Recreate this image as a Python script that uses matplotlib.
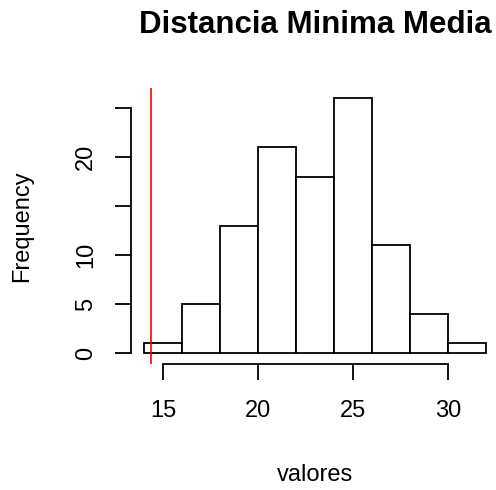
import matplotlib.pyplot as plt
import numpy as np

# histograma (R style)
bordes = np.arange(14, 33, 2)
conteos = [1, 5, 13, 21, 18, 26, 11, 4, 1]
linea_roja = 14.35

xticks = [15, 20, 25, 30]
yticks = [0, 5, 10, 15, 20, 25]
ytick_labels = ['0', '5', '10', '', '20', '']

plt.rcParams['font.family'] = ['Liberation Sans', 'DejaVu Sans']

W, H = 496, 490
fig = plt.figure(figsize=(W / 100, H / 100), dpi=100)
l, r = 130.6, 496
t, b = 88, 363.5
ax = fig.add_axes([l / W, 1 - b / H, (r - l) / W, (b - t) / H])

ax.bar(bordes[:-1], conteos, width=np.diff(bordes), align='edge',
       facecolor='white', edgecolor='black', linewidth=1.3)
ax.axvline(linea_roja, color='red', linewidth=1.2)

ax.set_xlim(13.28, 13.28 + (r - l) / 19.0)
ax.set_ylim(-1.04, 27.04)

for s in ['top', 'right']:
    ax.spines[s].set_visible(False)
ax.spines['left'].set_bounds(0, 25)
ax.spines['bottom'].set_bounds(15, 30)
ax.spines['left'].set_linewidth(1.3)
ax.spines['bottom'].set_linewidth(1.3)

ax.set_xticks(xticks)
ax.set_xticklabels([str(v) for v in xticks])
ax.set_yticks(yticks)
ax.set_yticklabels(ytick_labels, rotation=90, va='center')
ax.tick_params(axis='both', direction='out', length=11.3, width=1.3, labelsize=17)
ax.tick_params(axis='x', pad=15)
ax.tick_params(axis='y', pad=13)

fig.text((130.6 + 499.7) / 2 / W, 1 - 25 / H, 'Distancia Minima Media',
         ha='center', va='center', fontsize=22.5, fontweight='bold')
fig.text(22 / W, 1 - 225.7 / H, 'Frequency', rotation=90,
         ha='center', va='center', fontsize=17)
fig.text((130.6 + 499.7) / 2 / W, 1 - 475 / H, 'valores',
         ha='center', va='center', fontsize=17)

fig.savefig('out.png', dpi=100)
